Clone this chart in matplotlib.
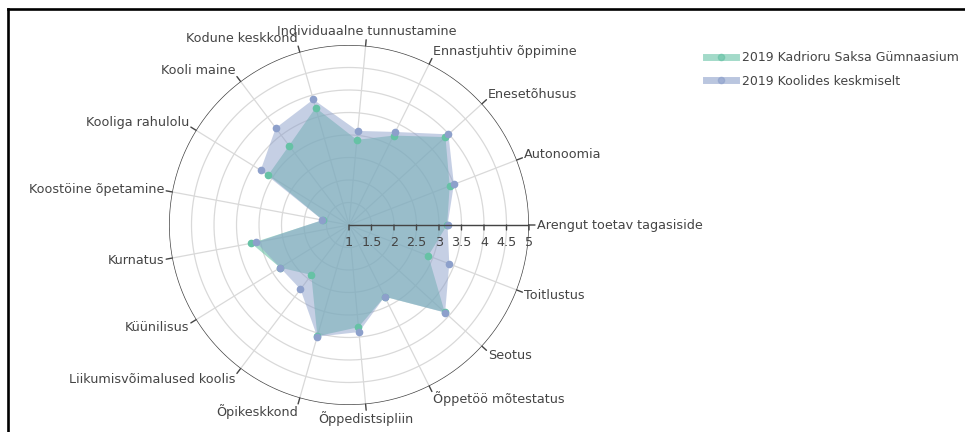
import numpy as np
import matplotlib
matplotlib.use("Agg")
import matplotlib.pyplot as plt
from matplotlib.lines import Line2D

categories = [
    "Arengut toetav tagasiside", "Autonoomia", "Enesetõhusus",
    "Ennastjuhtiv õppimine", "Individuaalne tunnustamine", "Kodune keskkond",
    "Kooli maine", "Kooliga rahulolu", "Koostöine õpetamine", "Kurnatus",
    "Küünilisus", "Liikumisvõimalused koolis", "Õpikeskkond",
    "Õppedistsipliin", "Õppetöö mõtestatus", "Seotus", "Toitlustus",
]
school_name = "2019 Kadrioru Saksa Gümnaasium"
school = [3.18, 3.40, 3.90, 3.22, 2.90, 3.71, 3.21, 3.11, 1.59, 3.21,
          2.80, 2.39, 3.57, 3.28, 2.78, 3.88, 2.89]
avg_name = "2019 Koolides keskmiselt"
average = [3.19, 3.50, 3.99, 3.31, 3.10, 3.90, 3.70, 3.31, 1.60, 3.10,
           2.80, 2.79, 3.58, 3.39, 2.78, 3.89, 3.39]
r_ticks = [1, 1.5, 2, 2.5, 3, 3.5, 4, 4.5, 5]
r_tick_labels = ["1", "1.5", "2", "2.5", "3", "3.5", "4", "4.5", "5"]

plt.rcParams['font.family'] = ['DejaVu Sans']
TXT = "#444444"
FS = 9.2

W, H = 965, 432
fig = plt.figure(figsize=(W / 100, H / 100), dpi=100)
cx, cy, R = 349, 225, 180
ax = fig.add_axes([(cx - R) / W, (H - cy - R) / H, 2 * R / W, 2 * R / H],
                  projection="polar")
ax.set_ylim(1, 5)
ax.set_axis_off()

n = len(categories)
theta = np.arange(n) * 2 * np.pi / n
tc = np.linspace(0, 2 * np.pi, 400)

# grid circles
for r in r_ticks[1:-1]:
    ax.plot(tc, np.full_like(tc, r), color="#d9d9d9", lw=0.9, zorder=1)
# spokes
for t in theta:
    ax.plot([t, t], [1, 5], color="#d9d9d9", lw=0.9, zorder=1)
# outer circle
ax.plot(tc, np.full_like(tc, 5), color="#444444", lw=1.0, zorder=2)

green = "#66c2a5"
blue = "#8da0cb"

tt = np.append(theta, theta[0])
s_c = np.append(school, school[0])
a_c = np.append(average, average[0])
ax.fill(tt, s_c, color=green, alpha=0.58, lw=0, zorder=3)
ax.fill(tt, a_c, color=blue, alpha=0.5, lw=0, zorder=4)
ax.plot(theta, school, 'o', color=green, ms=4.5, zorder=6, clip_on=False)
ax.plot(theta, average, 'o', color=blue, ms=4.5, zorder=6, clip_on=False)

# radial axis line with ticks and labels
ax.plot([0, 0], [1, 5], color="#444444", lw=1.0, zorder=7)
for r, lab in zip(r_ticks, r_tick_labels):
    ax.annotate("", xy=(0, r), xytext=(0, -5), textcoords="offset pixels",
                arrowprops=dict(arrowstyle="-", color="#444444", lw=1.0,
                                shrinkA=0, shrinkB=0), zorder=7)
    ax.annotate(lab, xy=(0, r), xytext=(0, -17), textcoords="offset pixels",
                ha="center", va="center", fontsize=FS, color=TXT, zorder=8)

# angular ticks and labels
for t, lab in zip(theta, categories):
    c, s = np.cos(t), np.sin(t)
    ax.annotate("", xy=(t, 5), xytext=(6 * c, 6 * s), textcoords="offset pixels",
                arrowprops=dict(arrowstyle="-", color="#444444", lw=1.0,
                                shrinkA=0, shrinkB=0), annotation_clip=False)
    if c > 0.15:
        ha = "left"
    elif c < -0.15:
        ha = "right"
    else:
        ha = "center"
    ax.annotate(lab, xy=(t, 5), xytext=(8 * c, 8 * s + 6 * s),
                textcoords="offset pixels", ha=ha, va="center",
                fontsize=FS, color=TXT, annotation_clip=False)

# legend
handles = [
    Line2D([], [], color=green, alpha=0.6, lw=5, marker='o', ms=4.5,
           markerfacecolor=green, markeredgecolor=green),
    Line2D([], [], color=blue, alpha=0.6, lw=5, marker='o', ms=4.5,
           markerfacecolor=blue, markeredgecolor=blue),
]
leg = fig.legend(handles, [school_name, avg_name], loc="upper left",
                 bbox_to_anchor=(706 / W, 1 - 51 / H), frameon=False,
                 fontsize=9.0, handlelength=2.4, handletextpad=0.45,
                 labelspacing=0.85, borderaxespad=0, borderpad=0)
for t in leg.get_texts():
    t.set_color(TXT)

# frame lines (top and left)
fig.add_artist(Line2D([7.5 / W, 1], [1 - 8.5 / H, 1 - 8.5 / H],
                      transform=fig.transFigure, color="black", lw=1.9))
fig.add_artist(Line2D([7.5 / W, 7.5 / W], [0, 1 - 8.5 / H],
                      transform=fig.transFigure, color="black", lw=1.9))

fig.savefig("out.png", dpi=100, facecolor="white")
